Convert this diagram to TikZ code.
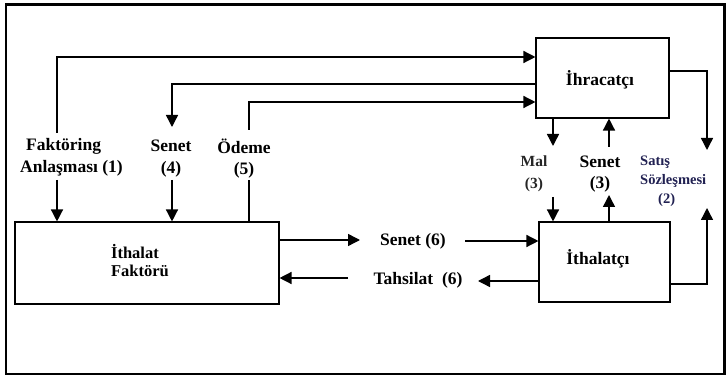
\documentclass[tikz,border=0pt]{standalone}
\usepackage{fontspec}
\setmainfont{Liberation Serif}
\usetikzlibrary{arrows.meta}
\definecolor{navy}{rgb}{0.13,0.13,0.32}
\tikzset{
  box/.style={draw, line width=1.1pt, inner sep=0pt},
  ln/.style={line width=1.4pt},
  arr/.style={line width=1.4pt, -{Triangle[length=12pt,width=12pt]}},
  lbl/.style={font=\fontsize{17.5}{21.5}\selectfont\bfseries, inner sep=0pt, align=center},
  lblr/.style={font=\fontsize{15.5}{22}\selectfont\bfseries, text=black!85, inner sep=0pt, align=center},
  lbls/.style={font=\fontsize{14.5}{19}\selectfont\bfseries, text=navy, inner sep=0pt, align=left},
}
\begin{document}
\begin{tikzpicture}[x=1pt,y=-1pt]
\useasboundingbox (0,0) rectangle (726,379);
\fill[white] (0,0) rectangle (726,379);
\draw[line width=2.6pt] (6,4.5) rectangle (724.5,374);

% boxes
\node[box, minimum width=133pt, minimum height=80pt] (ihr) at (602.5,78) {};
\node[lbl] (ihrt) at (600,80) {İhracatçı};
\node[box, minimum width=131pt, minimum height=80pt] (ith) at (604.5,262) {};
\node[lbl] (itht) at (598,259) {İthalatçı};
\node[box, minimum width=264pt, minimum height=82pt] (fak) at (147,263) {};
\node[lbl, align=left, font=\fontsize{16.5}{18}\selectfont\bfseries] (fakt) at (140,261) {İthalat\\Faktörü};

% labels
\node[lbl, align=left, anchor=west] (l1) at (20,157.5) {\hspace*{6pt}Faktöring\\Anlaşması (1)};
\node[lbl] (l4) at (171,158.5) {Senet\\(4)};
\node[lbl] (l5) at (244,158.5) {Ödeme\\(5)};
\node[lblr] (lmal) at (534,174) {Mal\\(3)};
\node[lbl] (ls3) at (600,174) {Senet\\(3)};
\node[lbls, anchor=west] (ls2) at (640,181) {Satış\\Sözleşmesi\\\hspace*{18pt}(2)};
\node[lbl] (ls6) at (413,241) {Senet (6)};
\node[lbl] (lt6) at (418,280) {Tahsilat\ \ (6)};

% coordinates
\coordinate (a1) at (57,133);
\coordinate (a1t) at (57,57);
\coordinate (b1) at (57,180);
\coordinate (a4) at (172,127);
\coordinate (a4t) at (172,84);
\coordinate (b4) at (172,180);
\coordinate (a5) at (249,130);
\coordinate (a5t) at (249,102);
\coordinate (b5) at (249,180);
\coordinate (r1) at (707,71);
\coordinate (r1b) at (707,150);
\coordinate (r2) at (707,284);
\coordinate (r2t) at (707,208);
\coordinate (m1) at (553,146);
\coordinate (m2) at (553,197);
\coordinate (s1) at (609,147);
\coordinate (s2) at (609,195);
\coordinate (n1) at (360,240);
\coordinate (n2) at (465,241);
\coordinate (t1) at (478,281);
\coordinate (t2) at (348,278);

% connectors
\draw[arr] (a1) -- (a1t) -- (a1t -| ihr.west);
\draw[arr] (b1) -- (b1 |- fak.north);
\draw[arr] (a4t -| ihr.west) -- (a4t) -- (a4);
\draw[arr] (b4) -- (b4 |- fak.north);
\draw[arr] (a5) -- (a5t) -- (a5t -| ihr.west);
\draw[ln] (b5 |- fak.north) -- (b5);
\draw[arr] (r1 -| ihr.east) -- (r1) -- (r1b);
\draw[arr] (r2 -| ith.east) -- (r2) -- (r2t);
\draw[arr] (m1 |- ihr.south) -- (m1);
\draw[arr] (m2) -- (m2 |- ith.north);
\draw[arr] (s1) -- (s1 |- ihr.south);
\draw[arr] (s2 |- ith.north) -- (s2);
\draw[arr] (n1 -| fak.east) -- (n1);
\draw[arr] (n2) -- (n2 -| ith.west);
\draw[arr] (t1 -| ith.west) -- (t1);
\draw[arr] (t2) -- (t2 -| fak.east);
\end{tikzpicture}
\end{document}
